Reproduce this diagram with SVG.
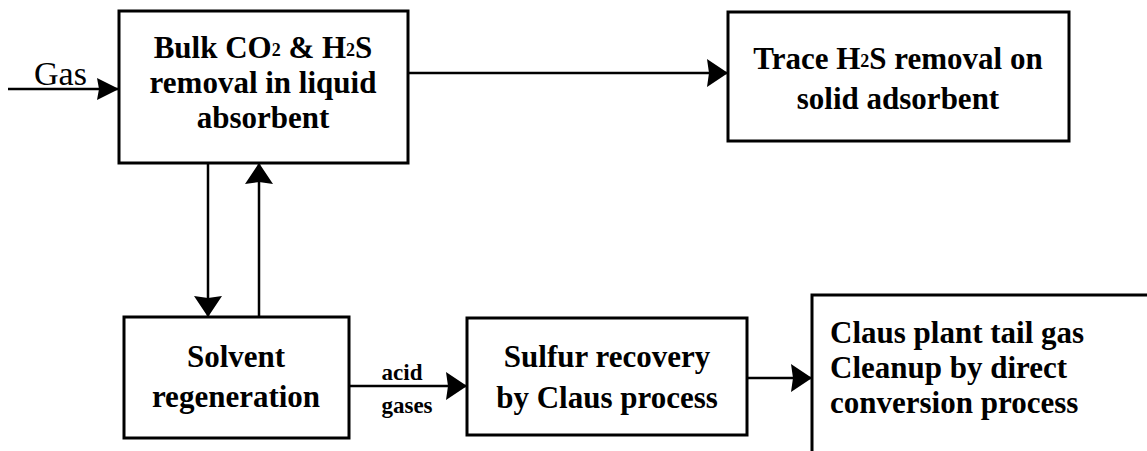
<svg xmlns="http://www.w3.org/2000/svg" width="1147" height="451" viewBox="0 0 1147 451">
<defs>
<style>
.box{fill:#fff;stroke:#000;stroke-width:3}
.t{font-family:"Liberation Serif","Times New Roman",serif;font-weight:bold;font-size:31px;fill:#000}
.c{text-anchor:middle}
.small{font-family:"Liberation Serif","Times New Roman",serif;font-weight:bold;font-size:23px;fill:#000;text-anchor:middle}
.gas{font-family:"Liberation Serif","Times New Roman",serif;font-size:34px;fill:#000}
.con{fill:none;stroke:#000;stroke-width:2.5;marker-end:url(#ah)}
.con2{fill:none;stroke:#000;stroke-width:2.5;marker-end:url(#ahs)}
</style>
<marker id="ah" markerUnits="userSpaceOnUse" markerWidth="24" markerHeight="30" refX="21" refY="14" orient="auto">
<path d="M0,0 L21,14 L0,28 L2,14 Z" fill="#000"/>
</marker>
<marker id="ahs" markerUnits="userSpaceOnUse" markerWidth="24" markerHeight="24" refX="22" refY="11" orient="auto">
<path d="M0,0 L22,11 L0,22 L2,11 Z" fill="#000"/>
</marker>
</defs>
<rect width="1147" height="451" fill="#fff"/>
<g id="connectors">
<path class="con2" d="M8,89 H119"/>
<path class="con" d="M408,73 H728"/>
<path class="con" d="M208,160 V317"/>
<path class="con" d="M259,317 V163"/>
<path class="con" d="M349,386 H467"/>
<path class="con" d="M747,378 H812"/>
<text class="small" x="402" y="380">acid</text>
<text class="small" x="407" y="413">gases</text>
<text class="gas" x="34" y="85">Gas</text>
</g>
<g id="bulk">
<rect class="box" x="119" y="11" width="289" height="152"/>
<text class="t c" x="263" y="58">Bulk CO<tspan font-size="18" dy="-2">2</tspan><tspan dy="2"> &amp; H</tspan><tspan font-size="18" dy="-2">2</tspan><tspan dy="2">S</tspan></text>
<text class="t c" x="263" y="93">removal in liquid</text>
<text class="t c" x="263" y="128">absorbent</text>
</g>
<g id="trace">
<rect class="box" x="728" y="12" width="341" height="129"/>
<text class="t c" x="898" y="69">Trace H<tspan font-size="18" dy="-2">2</tspan><tspan dy="2">S removal on</tspan></text>
<text class="t c" x="898" y="109">solid adsorbent</text>
</g>
<g id="solvent">
<rect class="box" x="124" y="317" width="225" height="121"/>
<text class="t c" x="236" y="367">Solvent</text>
<text class="t c" x="236" y="407">regeneration</text>
</g>
<g id="sulfur">
<rect class="box" x="467" y="318" width="280" height="117"/>
<text class="t c" x="607" y="367">Sulfur recovery</text>
<text class="t c" x="607" y="408">by Claus process</text>
</g>
<g id="claus">
<rect class="box" x="812" y="295" width="345" height="170"/>
<text class="t" x="830" y="343">Claus plant tail gas</text>
<text class="t" x="830" y="378">Cleanup by direct</text>
<text class="t" x="830" y="413">conversion process</text>
</g>
</svg>
